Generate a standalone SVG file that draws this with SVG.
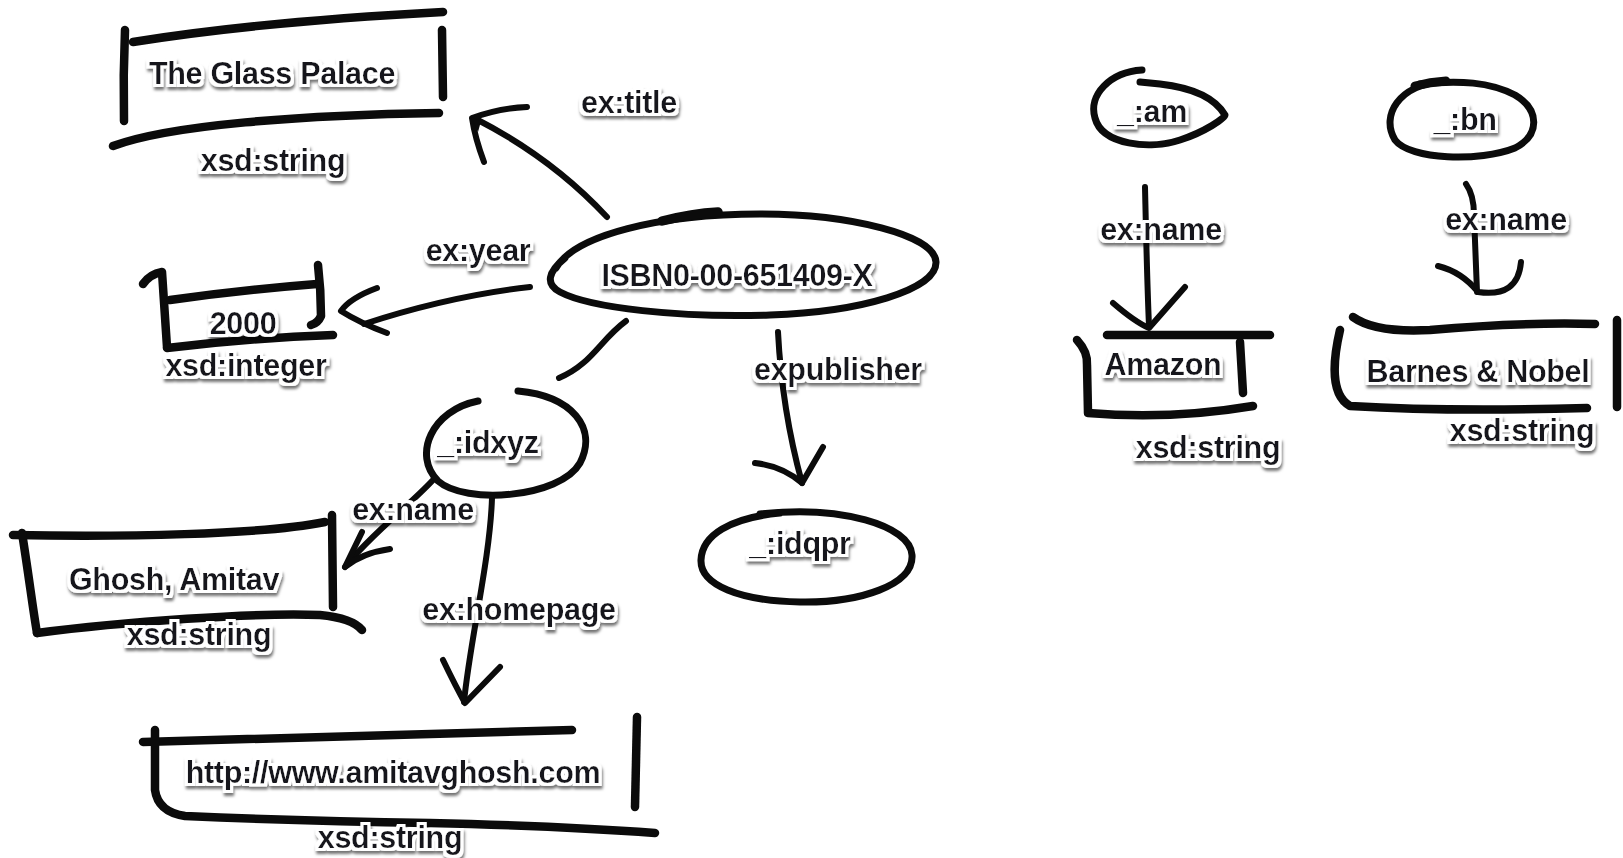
<svg xmlns="http://www.w3.org/2000/svg" width="1623" height="858" viewBox="0 0 1623 858">
  <defs>
    <!-- white halo plus soft grey drop shadow behind label text -->
    <filter id="halo" x="-15%" y="-40%" width="130%" height="190%">
      <feMorphology in="SourceAlpha" operator="dilate" radius="2.5" result="thick"/>
      <feGaussianBlur in="thick" stdDeviation="1.6" result="soft"/>
      <feOffset in="soft" dx="1" dy="2.5" result="off"/>
      <feFlood flood-color="#000" flood-opacity="0.55"/>
      <feComposite in2="off" operator="in" result="shadow"/>
      <feFlood flood-color="#fff"/>
      <feComposite in2="thick" operator="in" result="white"/>
      <feMerge>
        <feMergeNode in="shadow"/>
        <feMergeNode in="white"/>
        <feMergeNode in="SourceGraphic"/>
      </feMerge>
    </filter>
    <style>
      .ink { fill: none; stroke: #0b0b0b; stroke-linecap: round; stroke-linejoin: round; }
      .box { stroke-width: 8.5; }
      .oval { stroke-width: 7; }
      .arrow { stroke-width: 6; }
      .lbl { font-family: "Liberation Sans", Arial, Helvetica, sans-serif; font-weight: bold; font-size: 30.5px; letter-spacing: -0.3px; fill: #15151f; text-anchor: middle; filter: url(#halo); }
    </style>
  </defs>

  <rect width="1623" height="858" fill="#ffffff"/>

  <!-- edges -->
  <g id="connectors">
    <!-- ex:title -->
    <path class="ink arrow" d="M607,217 Q 552,158 476,119"/>
    <path class="ink arrow" d="M484,162 Q 475,138 472,118 Q 500,108 527,107"/>
    <path d="M471,117 L481,121 L478,132 Z" fill="#0b0b0b"/>
    <!-- ex:year -->
    <path class="ink arrow" d="M530,287 Q 450,296 364,324"/>
    <path class="ink arrow" d="M377,288 Q 350,298 341,311 Q 360,323 387,333"/>
    <!-- ISBN to _:idxyz -->
    <path class="ink arrow" d="M626,321 C 600,340 592,364 559,378"/>
    <!-- expublisher -->
    <path class="ink arrow" d="M778,332 Q 782,410 802,483"/>
    <path class="ink arrow" d="M755,463 Q 782,466 802,483 L 823,447"/>
    <!-- ex:name (Ghosh) -->
    <path class="ink arrow" d="M433,480 C 410,505 370,535 345,567"/>
    <path class="ink arrow" d="M390,549 Q 362,553 345,567 L 362,532"/>
    <!-- ex:homepage -->
    <path class="ink arrow" d="M492,498 C 490,560 470,640 464,702"/>
    <path class="ink arrow" d="M443,660 Q 455,685 465,703 L 500,667"/>
    <!-- ex:name (Amazon) -->
    <path class="ink arrow" d="M1145,187 C 1146,230 1147,280 1149,326"/>
    <path class="ink arrow" d="M1113,303 Q 1135,322 1149,328 L 1185,287"/>
    <!-- ex:name (Barnes & Nobel) -->
    <path class="ink arrow" d="M1466,184 Q 1474,195 1474,215 L 1477,292"/>
    <path class="ink arrow" d="M1438,266 Q 1462,272 1478,292 Q 1518,298 1521,262"/>

    <text class="lbl" x="629" y="113">ex:title</text>
    <text class="lbl" x="478" y="261">ex:year</text>
    <text class="lbl" x="838" y="380">expublisher</text>
    <text class="lbl" x="413" y="520">ex:name</text>
    <text class="lbl" x="519" y="620">ex:homepage</text>
    <text class="lbl" x="1161" y="240">ex:name</text>
    <text class="lbl" x="1506" y="230">ex:name</text>
  </g>

  <!-- literal: title -->
  <g id="n-title">
    <path class="ink box" d="M125,30 Q 123,75 124,121"/>
    <path class="ink box" d="M133,42 C 220,28 330,18 443,12"/>
    <path class="ink box" d="M442,30 L443,97"/>
    <path class="ink box" stroke-width="9.5" d="M113,146 C 170,125 300,115 439,113"/>
    <text class="lbl" x="272" y="84">The Glass Palace</text>
    <text class="lbl" x="273" y="171">xsd:string</text>
  </g>

  <!-- resource: the book -->
  <g id="n-isbn">
    <path class="ink oval" d="M556,268 C 575,235 660,214 760,214 C 850,214 935,235 936,262 C 937,290 860,312 770,315 C 680,318 590,308 560,292 C 545,284 548,272 565,258"/>
    <path class="ink" stroke-width="9.5" d="M662,221 C 682,216 700,213 718,212"/>
    <text class="lbl" x="737" y="286">ISBN0-00-651409-X</text>
  </g>

  <!-- literal: year -->
  <g id="n-year">
    <path class="ink box" stroke-width="7" d="M143,284 Q 150,274 162,272 L 167,347"/>
    <path class="ink box" stroke-width="7" d="M170,300 Q 240,290 317,284"/>
    <path class="ink box" stroke-width="6" d="M318,265 Q 321,290 321,316 Q 318,323 311,325"/>
    <path class="ink box" stroke-width="7" d="M167,348 Q 250,338 333,335"/>
    <text class="lbl" x="243" y="334">2000</text>
    <text class="lbl" x="246" y="376">xsd:integer</text>
  </g>

  <!-- blank node: author -->
  <g id="n-idxyz">
    <path class="ink oval" d="M478,401 C 432,410 412,455 438,481 C 465,505 560,498 580,463 C 598,428 572,396 518,391"/>
    <text class="lbl" x="488" y="453">_:idxyz</text>
  </g>

  <!-- literal: author name -->
  <g id="n-ghosh">
    <path class="ink box" stroke-width="7.5" d="M13,535 C 120,537 260,535 325,522"/>
    <path class="ink box" stroke-width="7.5" d="M22,533 C 28,570 33,610 37,633"/>
    <path class="ink box" stroke-width="7.5" d="M37,633 C 120,622 260,612 320,615 Q 352,618 362,630"/>
    <path class="ink box" stroke-width="6" d="M332,515 L333,607"/>
    <text class="lbl" x="174" y="590">Ghosh, Amitav</text>
    <text class="lbl" x="199" y="645">xsd:string</text>
  </g>

  <!-- literal: homepage -->
  <g id="n-homepage">
    <path class="ink box" d="M143,742 L572,730"/>
    <path class="ink box" d="M155,730 L155,790 Q 158,812 185,816 Q 300,821 430,823 Q 560,826 655,833"/>
    <path class="ink box" stroke-width="6" d="M637,717 L635,807"/>
    <text class="lbl" x="393" y="783">http://www.amitavghosh.com</text>
    <text class="lbl" x="390" y="848">xsd:string</text>
  </g>

  <!-- blank node: publisher -->
  <g id="n-idqpr">
    <path class="ink oval" d="M760,514 C 840,505 910,525 912,555 C 914,585 860,603 800,602 C 740,601 700,585 701,560 C 702,535 730,518 780,513"/>
    <text class="lbl" x="800" y="554">_:idqpr</text>
  </g>

  <!-- blank node: Amazon -->
  <g id="n-am">
    <path class="ink oval" d="M1142,70 C 1110,72 1088,95 1095,118 C 1102,145 1150,150 1180,140 C 1205,132 1225,118 1225,115 C 1215,98 1195,88 1160,84 L 1140,82"/>
    <text class="lbl" x="1152" y="122">_:am</text>
  </g>

  <!-- literal: Amazon -->
  <g id="n-amazon">
    <path class="ink box" stroke-width="7" d="M1107,335 L1270,335"/>
    <path class="ink box" stroke-width="7.5" d="M1077,340 Q 1088,352 1087,365 L 1088,413 Q 1170,420 1253,406"/>
    <path class="ink box" stroke-width="5.5" d="M1240,342 L1243,393"/>
    <text class="lbl" x="1163" y="375">Amazon</text>
    <text class="lbl" x="1208" y="458">xsd:string</text>
  </g>

  <!-- blank node: Barnes & Nobel -->
  <g id="n-bn">
    <path class="ink oval" d="M1440,82 C 1400,85 1380,115 1395,140 C 1410,160 1480,162 1515,148 C 1540,135 1540,110 1515,95 C 1490,82 1460,80 1420,84"/>
    <path class="ink" stroke-width="9" d="M1415,86 Q 1430,82 1446,81"/>
    <text class="lbl" x="1465" y="130">_:bn</text>
  </g>

  <!-- literal: Barnes & Nobel -->
  <g id="n-barnes">
    <path class="ink box" stroke-width="7.5" d="M1353,317 Q 1375,333 1430,330 Q 1520,322 1595,324"/>
    <path class="ink box" stroke-width="7.5" d="M1340,330 C 1333,360 1330,395 1350,406 Q 1450,412 1587,408"/>
    <path class="ink box" stroke-width="5.5" d="M1617,320 L1617,407"/>
    <text class="lbl" x="1478" y="382">Barnes &amp; Nobel</text>
    <text class="lbl" x="1522" y="441">xsd:string</text>
  </g>
</svg>
